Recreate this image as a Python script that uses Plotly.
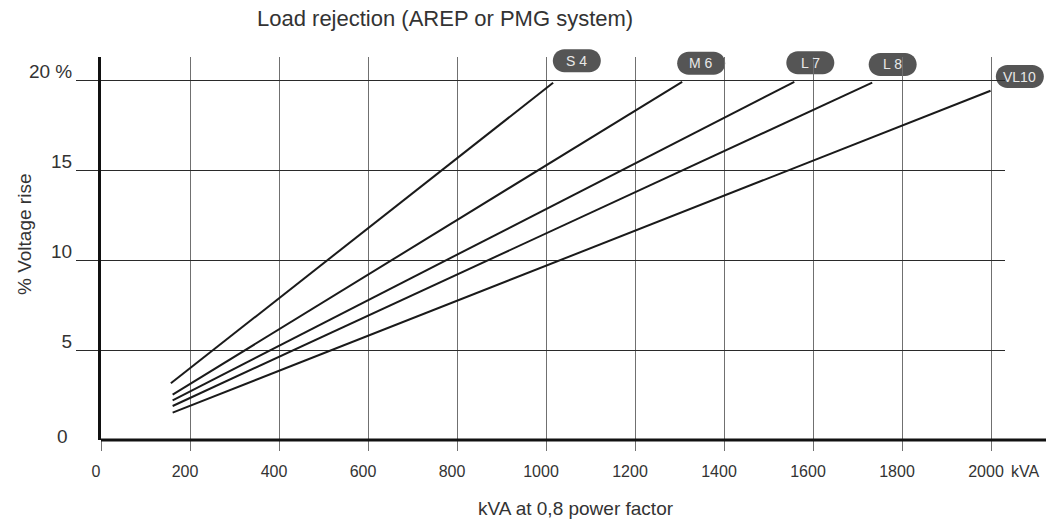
import plotly.graph_objects as go

# ---- data ----
series_names = ["S 4", "M 6", "L 7", "L 8", "VL10"]
kva_start = [157, 161, 161, 161, 161]
kva_end = [1016, 1306, 1558, 1733, 1999]
rise_start = [3.15, 2.52, 2.20, 1.89, 1.52]
rise_end = [19.85, 19.90, 19.90, 19.85, 19.40]

x_tick_vals = [0, 200, 400, 600, 800, 1000, 1200, 1400, 1600, 1800, 2000]
y_tick_vals = [5, 10, 15, 20]
y_tick_text = ["5", "10", "15", "20 %"]

# ---- geometry ----
W, H = 1046, 521
ML, MR, MT, MB = 101, 41, 57, 81
PW = W - ML - MR
PH = H - MT - MB
XMAX = PW / 0.445
YMAX = PH / 18.0

TXT = "#333333"
FONT = "Liberation Sans, Arial, sans-serif"
fig = go.Figure()

for i, name in enumerate(series_names):
    fig.add_trace(go.Scatter(
        x=[kva_start[i], kva_end[i]], y=[rise_start[i], rise_end[i]],
        mode="lines", line=dict(color="#1a1a1a", width=2), name=name,
        showlegend=False, hoverinfo="skip"))

# pill labels (pixel offsets of pill centre from line end, style only)
pill_dx = [23.7, 19.0, 16.0, 20.5, 29.3]
pill_dy = [21.9, 18.5, 19.0, 18.2, 14.2]
w, h = 48.0, 23.0
r = h / 2
xa, xb = -w / 2 + r, w / 2 - r
k = 0.5523 * r
pill_path = (f"M {xa},{-r} L {xb},{-r} C {xb+k},{-r} {xb+r},{-k} {xb+r},0 "
             f"C {xb+r},{k} {xb+k},{r} {xb},{r} L {xa},{r} "
             f"C {xa-k},{r} {xa-r},{k} {xa-r},0 C {xa-r},{-k} {xa-k},{-r} {xa},{-r} Z")

shapes = []
annotations = []
for i, name in enumerate(series_names):
    cx = kva_end[i] / XMAX + pill_dx[i] / PW
    cy = rise_end[i] / YMAX + pill_dy[i] / PH
    shapes.append(dict(type="path", xref="paper", yref="paper",
                       xsizemode="pixel", ysizemode="pixel",
                       xanchor=cx, yanchor=cy, path=pill_path,
                       fillcolor="#555555", line=dict(width=0), layer="below"))
    annotations.append(dict(x=cx, y=cy, xref="paper", yref="paper", text=name,
                            showarrow=False, xanchor="center", yanchor="middle",
                            font=dict(family=FONT, size=14, color="#e8e8e8")))

# x axis line extending to the right edge
shapes.append(dict(type="line", xref="paper", yref="paper", x0=0, x1=(W - ML) / PW,
                   y0=0, y1=0, line=dict(color="#111111", width=3), layer="above"))

def px_to_paper(px, py):
    return (px - ML) / PW, (H - MB - py) / PH

tx, ty = px_to_paper(445, 19)
annotations.append(dict(x=tx, y=ty, xref="paper", yref="paper", showarrow=False,
                        text="Load rejection (AREP or PMG system)",
                        font=dict(family=FONT, size=22, color=TXT),
                        xanchor="center", yanchor="middle"))
ax_, ay_ = px_to_paper(576, 508)
annotations.append(dict(x=ax_, y=ay_, xref="paper", yref="paper", showarrow=False,
                        text="kVA at 0,8 power factor",
                        font=dict(family=FONT, size=19, color=TXT),
                        xanchor="center", yanchor="middle"))
yx_, yy_ = px_to_paper(24, 235)
annotations.append(dict(x=yx_, y=yy_, xref="paper", yref="paper", showarrow=False,
                        text="% Voltage rise", textangle=-90,
                        font=dict(family=FONT, size=19, color=TXT),
                        xanchor="center", yanchor="middle"))
kx_, ky_ = px_to_paper(1025, 471)
annotations.append(dict(x=kx_, y=ky_, xref="paper", yref="paper", showarrow=False,
                        text="kVA",
                        font=dict(family=FONT, size=16, color=TXT),
                        xanchor="center", yanchor="middle"))
zx_, zy_ = px_to_paper(62, 436)
annotations.append(dict(x=zx_, y=zy_, xref="paper", yref="paper", showarrow=False,
                        text="0",
                        font=dict(family=FONT, size=19, color=TXT),
                        xanchor="center", yanchor="middle"))

fig.update_layout(
    width=W, height=H,
    margin=dict(l=ML, r=MR, t=MT, b=MB, pad=0),
    paper_bgcolor="white", plot_bgcolor="rgba(0,0,0,0)",
    shapes=shapes, annotations=annotations, showlegend=False,
    xaxis=dict(range=[0, XMAX], tickvals=x_tick_vals, ticktext=[str(v) for v in x_tick_vals],
               showgrid=True, gridcolor="#707070", gridwidth=1, zeroline=False,
               showline=False, ticks="outside", ticklen=10, tickcolor="#707070", tickwidth=1,
               tickfont=dict(family=FONT, size=16, color=TXT),
               ticklabelshift=-5, ticklabelstandoff=7, fixedrange=True),
    yaxis=dict(range=[0, YMAX], tickvals=y_tick_vals, ticktext=y_tick_text,
               showgrid=True, gridcolor="#2a2a2a", gridwidth=1, zeroline=False,
               showline=True, linecolor="#111111", linewidth=3,
               ticks="outside", ticklen=22, tickcolor="#2a2a2a", tickwidth=1,
               tickfont=dict(family=FONT, size=19, color=TXT),
               ticklabelshift=-9, ticklabelstandoff=0, fixedrange=True),
)

fig.write_html("out.html", config={"displayModeBar": False},
               post_script="document.body.style.margin='0';document.body.style.overflow='hidden';")
